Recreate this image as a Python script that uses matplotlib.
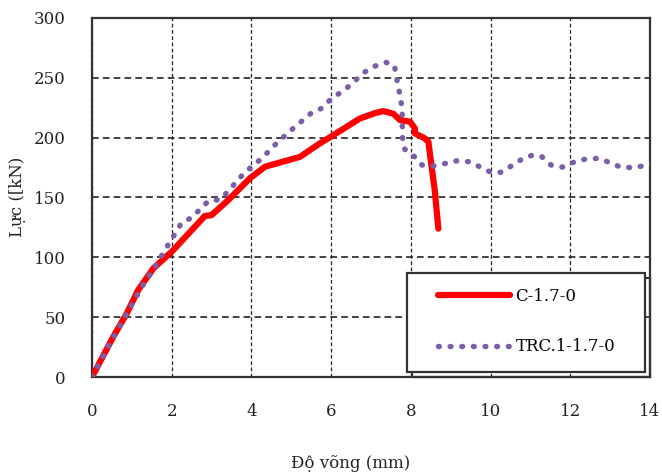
import matplotlib
matplotlib.use("Agg")
import matplotlib.pyplot as plt
from matplotlib.patches import Rectangle

plt.rcParams['font.family'] = ['DejaVu Serif']

# C-1.7-0 (solid red)
c_x = [0, 0.535, 0.87, 1.16, 1.54, 2.0, 2.83, 3.0, 3.42, 3.96, 4.34, 5.22, 5.72,
       6.05, 6.72, 7.1, 7.31, 7.56, 7.73, 7.98, 8.1, 8.1, 8.35, 8.44, 8.52, 8.6, 8.69]
c_y = [0, 33.7, 53, 72.7, 90.8, 104.7, 134.5, 135.3, 147.9, 166, 175.7, 184, 195.3,
       202, 216, 220.5, 222.2, 220, 214.7, 213.3, 207.8, 203.6, 199.4, 196.6, 175.7, 156, 124]

# TRC.1-1.7-0 (dotted purple)
t_x = [0, 0.43, 0.87, 1.29, 1.56, 1.83, 2.08, 2.25, 2.5, 2.71, 2.92, 3.23, 3.42,
       3.81, 4.26, 4.63, 5.05, 5.51, 5.76, 5.97, 6.41, 6.85, 7.1, 7.38, 7.59,
       7.64, 7.7, 7.78, 7.79, 7.85, 8.09, 8.28, 8.56, 8.87, 9.16, 9.46, 9.73,
       10.0, 10.25, 10.52, 10.78, 11.06, 11.29, 11.52, 11.8, 12.08, 12.38, 12.69,
       12.96, 13.24, 13.55, 13.85, 14.1]
t_y = [0, 26.7, 53, 77.4, 90.8, 106.1, 119.5, 128.9, 133.1, 140.1, 147, 148.4, 155.4,
       170.2, 182.7, 195.3, 207.8, 220.8, 224.5, 231.4, 242, 255, 259.8, 262.9, 260.1,
       250.2, 240.3, 225, 200, 190.2, 184.1, 177.1, 176.3, 178.5, 180.7, 179.9, 175.7,
       171.2, 171, 176.3, 181.9, 185.5, 184, 177.1, 175.4, 179.4, 182.1, 182.7,
       179.6, 175.7, 174.9, 176.5, 178]

x_ticks = [0, 2, 4, 6, 8, 10, 12, 14]
y_ticks = [0, 50, 100, 150, 200, 250, 300]

fig = plt.figure(figsize=(6.62, 4.75), dpi=100)
ax = fig.add_axes([92 / 662, 1 - 377 / 475, 558 / 662, 359 / 475])

ax.plot(c_x, c_y, color='#ff0000', lw=4.5, solid_capstyle='round',
        solid_joinstyle='round', label='C-1.7-0', zorder=3)
ax.plot(t_x, t_y, color='#7b5ea7', lw=3.9, linestyle=(0, (0.15, 2.0)),
        dash_capstyle='round', label='TRC.1-1.7-0', zorder=4)

ax.set_xlim(0, 14)
ax.set_ylim(0, 300)
ax.set_xticks(x_ticks)
ax.set_yticks(y_ticks)
ax.tick_params(length=0, labelsize=12, colors='#222222')
ax.tick_params(axis='x', pad=19)
ax.tick_params(axis='y', pad=19)

ax.yaxis.grid(True, color='#222222', linestyle=(0, (4, 2.5)), lw=1.2)
ax.xaxis.grid(True, color='#222222', linestyle=(0, (3, 2)), lw=0.9)
ax.set_axisbelow(True)
for s in ax.spines.values():
    s.set_color('#333333')
    s.set_linewidth(1.6)

# legend frame with shadow drawn separately, entries placed inside it
ax.add_patch(Rectangle((0.5645 + 0.009, 0.0139 - 0.014), 0.4265, 0.2758,
                       transform=ax.transAxes, facecolor='none', edgecolor='#333333',
                       lw=1.6, zorder=5, clip_on=False))
ax.add_patch(Rectangle((0.5645, 0.0139), 0.4265, 0.2758, transform=ax.transAxes,
                       facecolor='white', edgecolor='#333333', lw=1.6, zorder=6,
                       clip_on=False))
leg = ax.legend(loc='upper left', bbox_to_anchor=((438 - 92) / 558, (377 - 288) / 359),
                fontsize=12, frameon=False, handlelength=4.3, handletextpad=0.35,
                labelspacing=2.0, borderpad=0, borderaxespad=0)
leg.set_zorder(7)

fig.text(351 / 662, 1 - 463 / 475, 'Độ võng (mm)', ha='center', va='center',
         fontsize=12, color='#222222')
fig.text(18 / 662, 1 - 197 / 475, 'Lực ([kN)', ha='center', va='center',
         rotation=90, fontsize=12, color='#222222')

fig.savefig('out.png', dpi=100)
